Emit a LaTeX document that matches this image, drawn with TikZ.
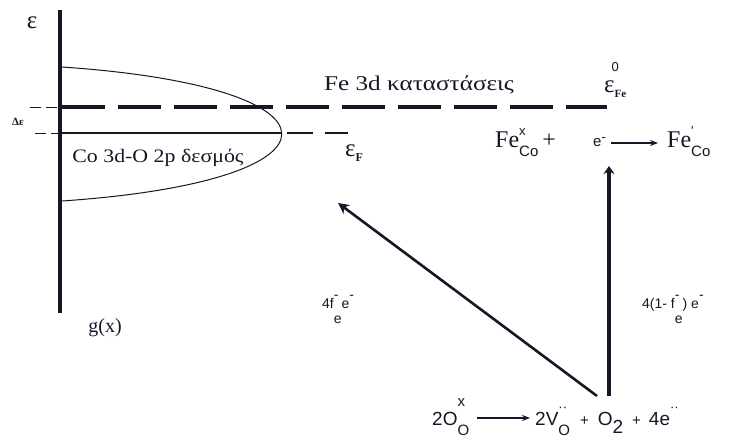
\documentclass[tikz,border=0pt]{standalone}
\usepackage{amsmath}
\usepackage{fontspec}
\setmainfont{Liberation Serif}
\setsansfont{Liberation Sans}
\usetikzlibrary{arrows.meta, positioning, calc}
\definecolor{inkdark}{RGB}{22,22,38}
% stacked upper and lower index
\newcommand{\kv}[4]{\makebox[0pt][l]{\raisebox{#3}{#1}}\raisebox{#4}{#2}}
\newcommand{\idxsf}{\sffamily\fontsize{15}{15}\selectfont}
\newcommand{\idxsm}{\sffamily\fontsize{13}{13}\selectfont}
\tikzset{every node/.append style={align=center}}
\tikzset{
  axisline/.style={line width=3.5pt, inkdark},
  bandcurve/.style={line width=1pt, inkdark},
  levelfe/.style={line width=4.5pt, inkdark, dash pattern=on 43pt off 13pt},
  levelf/.style={line width=1.2pt, inkdark},
  tickline/.style={line width=0.9pt, inkdark, dash pattern=on 11pt off 5pt},
  arrow/.style={-{Stealth[length=11pt, width=11pt]}, line width=2.6pt, inkdark},
  rxn/.style={-{Stealth[length=8pt, width=6pt]}, line width=1.4pt, inkdark},
  lbl/.style={font=\fontsize{21}{24}\selectfont, text=inkdark, inner sep=0pt},
  big/.style={font=\fontsize{24}{26}\selectfont, text=inkdark, inner sep=0pt, anchor=base west},
  slbl/.style={font=\sffamily\fontsize{14}{16}\selectfont, text=inkdark, inner sep=0pt, anchor=base west},
  eqlbl/.style={font=\sffamily\fontsize{19}{20}\selectfont, text=inkdark, inner sep=0pt, anchor=base west}
}

\begin{document}
\begin{tikzpicture}[x=1pt, y=-1pt]
  \useasboundingbox (0,0) rectangle (741,438);
  % axis and density of states
  \coordinate (axtop) at (60,10);
  \coordinate (axbot) at (60,313);
  \draw[axisline] (axtop) -- (axbot);
  \node[lbl, font=\fontsize{25}{26}\selectfont] (eps) at (32,23) {ε};
  \node[lbl, font=\fontsize{20}{24}\selectfont] (gx) at (105,328) {g(x)};
  \coordinate (bandtop) at (62,67);
  \coordinate (bandbot) at (62,201);
  \draw[bandcurve] (bandtop) .. controls (355,87) and (355,181) .. (bandbot);
  % levels
  \coordinate (feL) at (62,107);
  \coordinate (feR) at (607,107);
  \draw[levelfe] (feL) -- (feR);
  \coordinate (efL) at (62,133);
  \coordinate (efM) at (282,133);
  \coordinate (efD) at (287,133);
  \coordinate (efR) at (348,133);
  \draw[levelf] (efL) -- (efM);
  \draw[levelf, dash pattern=on 26pt off 12pt] (efD) -- (efR);
  \coordinate (tkA) at (30,107);
  \coordinate (tkB) at (35,133);
  \draw[tickline] (tkA) -- (feL);
  \draw[tickline] (tkB) -- (efL);
  \node[lbl, font=\bfseries\fontsize{11}{12}\selectfont] (deps) at (18,122) {Δε};
  \node[lbl] (fe3d) at (419,85) {\scalebox{1.2}[1]{Fe 3d καταστάσεις}};
  \node[lbl, font=\fontsize{19}{24}\selectfont] (coband) at (158,158) {\scalebox{1.15}[1]{Co 3d-O 2p δεσμός}};
  \node[big, font=\fontsize{25}{26}\selectfont] (efe) at (604,93)
    {ε\makebox[0pt][l]{\raisebox{21pt}{\kern-3pt\idxsm 0}}\raisebox{-5pt}{\bfseries\fontsize{11}{11}\selectfont Fe}};
  \node[big, font=\fontsize{25}{26}\selectfont] (ef) at (345,157)
    {ε\raisebox{-5pt}{\bfseries\fontsize{12}{12}\selectfont F}};
  % trapping of the electron
  \node[big] (fex) at (495,148) {Fe\kv{\idxsm x}{\idxsf Co}{12pt}{-9pt}\,+};
  \node[slbl, font=\sffamily\fontsize{15}{16}\selectfont] (elec) at (593,147) {e\raisebox{5pt}{\idxsm -}};
  \node[big] (feq) at (667,148) {Fe\kv{\idxsm\textquotesingle}{\idxsf Co}{12pt}{-9pt}};
  \coordinate (rxA) at (611,143);
  \coordinate (rxB) at (658,143);
  \draw[rxn] (rxA) -- (rxB);
  % oxygen loss
  \node[eqlbl] (oxy) at (432,425) {2O\kv{\idxsf x}{\idxsf O}{19pt}{-10pt}};
  \node[eqlbl] (prod) at (535,425)
    {2V\kv{\idxsm ··}{\idxsf O}{14pt}{-10pt}\hspace{10pt}{\idxsf +}\hspace{9pt}O\raisebox{-8pt}{2}\hspace{9pt}{\idxsf +}\hspace{8pt}4e\raisebox{14pt}{\idxsm ··}};
  \coordinate (oxA) at (477,418);
  \coordinate (oxB) at (530,418);
  \draw[rxn] (oxA) -- (oxB);
  \coordinate (srcdiag) at (597,396);
  \coordinate (srcvert) at (609,396);
  \coordinate (diagtip) at (338,203);
  \coordinate (verttip) at (609,166);
  \draw[arrow] (srcdiag) -- (diagtip);
  \draw[arrow, line width=3.2pt, -{Stealth[length=8pt, width=11pt]}] (srcvert) -- (verttip);
  \node[slbl] (fleft) at (322,308) {4f\kv{-}{e}{9pt}{-15pt}e\raisebox{9pt}{-}};
  \node[slbl] (fright) at (642,308) {4(1- f\kv{-}{e}{9pt}{-15pt}) e\raisebox{9pt}{-}};
\end{tikzpicture}
\end{document}
